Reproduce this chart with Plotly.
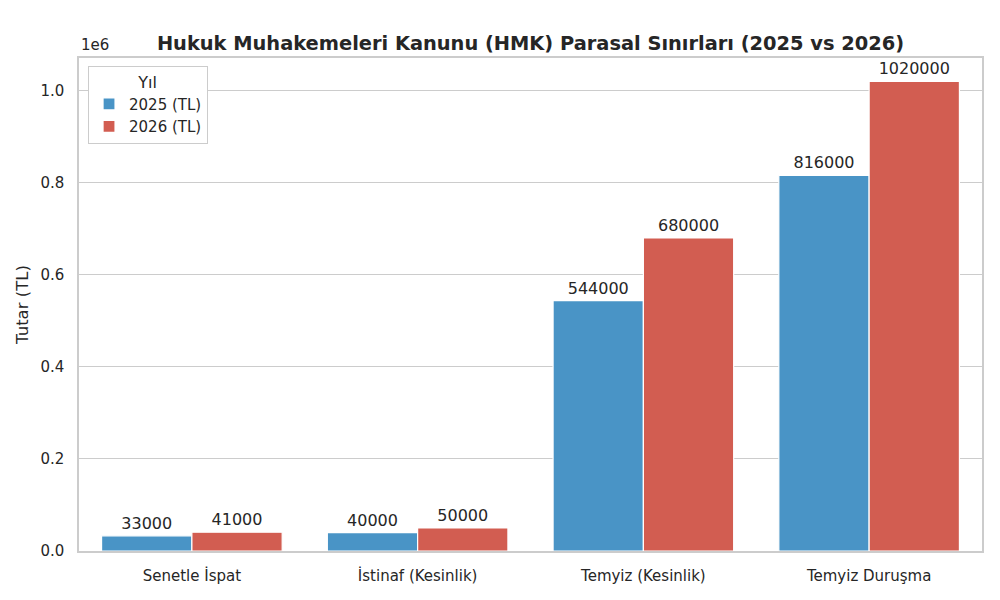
import plotly.graph_objects as go

# HMK parasal sinirlari
categories = ["Senetle İspat", "İstinaf (Kesinlik)", "Temyiz (Kesinlik)", "Temyiz Duruşma"]
values_2025 = [33000, 40000, 544000, 816000]
values_2026 = [41000, 50000, 680000, 1020000]
series_names = ["2025 (TL)", "2026 (TL)"]

y_tickvals = [0, 200000, 400000, 600000, 800000, 1000000]
y_ticktext = ["0.0", "0.2", "0.4", "0.6", "0.8", "1.0"]

font_family = "DejaVu Sans"
text_color = "#262626"
grid_color = "#cccccc"

# the page puts the plot 8px in from the top left corner
page_offset = 8


def make_bar(x, y, name, color):
    """
    INPUTS
    -x: categories
    -y: bar heights
    -name: legend label
    -color: fill colour
    OUTPUTS
    -returns a go.Bar trace with the value written over each bar
    """

    bar = go.Bar(x = x,
                 y = y,
                 name = name,
                 marker_color = color,
                 marker_line_color = "white",
                 marker_line_width = 1.2,
                 text = [str(v) for v in y],
                 textposition = "outside",
                 textfont = dict(size = 16, color = text_color, family = font_family),
                 cliponaxis = False)

    return bar


fig = go.Figure()
fig.add_trace(make_bar(categories, values_2025, series_names[0], "#4994c6"))
fig.add_trace(make_bar(categories, values_2026, series_names[1], "#d25d51"))

fig.update_layout(width = 1000,
                  height = 600,
                  margin = dict(l = 79 - page_offset,
                                r = 18 + page_offset,
                                t = 58 - page_offset,
                                b = 49 + page_offset),
                  paper_bgcolor = "white",
                  plot_bgcolor = "white",
                  font = dict(family = font_family, color = text_color, size = 15),
                  barmode = "group",
                  bargap = 0.2,
                  bargroupgap = 0,
                  title = dict(text = "<b>Hukuk Muhakemeleri Kanunu (HMK) Parasal Sınırları (2025 vs 2026)</b>",
                               x = 0.5 * (79 + 982 - 2 * page_offset) / 1000,
                               xanchor = "center",
                               y = 1 - (43 - page_offset) / 600,
                               yanchor = "middle",
                               font = dict(size = 19.4, color = text_color)),
                  legend = dict(title = dict(text = "Yıl", side = "top center",
                                             font = dict(size = 16)),
                                x = 0.01,
                                y = 0.984,
                                xanchor = "left",
                                yanchor = "top",
                                bgcolor = "white",
                                bordercolor = grid_color,
                                borderwidth = 1,
                                font = dict(size = 15)),
                  showlegend = True)

fig.update_xaxes(showline = True,
                 mirror = True,
                 linecolor = grid_color,
                 linewidth = 1.5,
                 showgrid = False,
                 ticks = "outside",
                 ticklen = 10,
                 tickcolor = "rgba(0,0,0,0)",
                 tickfont = dict(size = 15))

fig.update_yaxes(range = [0, 1071000],
                 tickvals = y_tickvals,
                 ticktext = y_ticktext,
                 showline = True,
                 mirror = True,
                 linecolor = grid_color,
                 linewidth = 1.5,
                 showgrid = True,
                 gridcolor = grid_color,
                 gridwidth = 1,
                 zeroline = False,
                 ticks = "outside",
                 ticklen = 10,
                 tickcolor = "rgba(0,0,0,0)",
                 tickfont = dict(size = 15),
                 title = dict(text = "Tutar (TL)", font = dict(size = 16.5), standoff = 8))

# offset text like matplotlib's scientific notation
fig.add_annotation(text = "1e6",
                   xref = "paper", yref = "paper",
                   x = 0, y = 1,
                   xanchor = "left", yanchor = "bottom",
                   yshift = 2,
                   showarrow = False,
                   font = dict(size = 15, color = text_color))

fig.write_html("out.html")
